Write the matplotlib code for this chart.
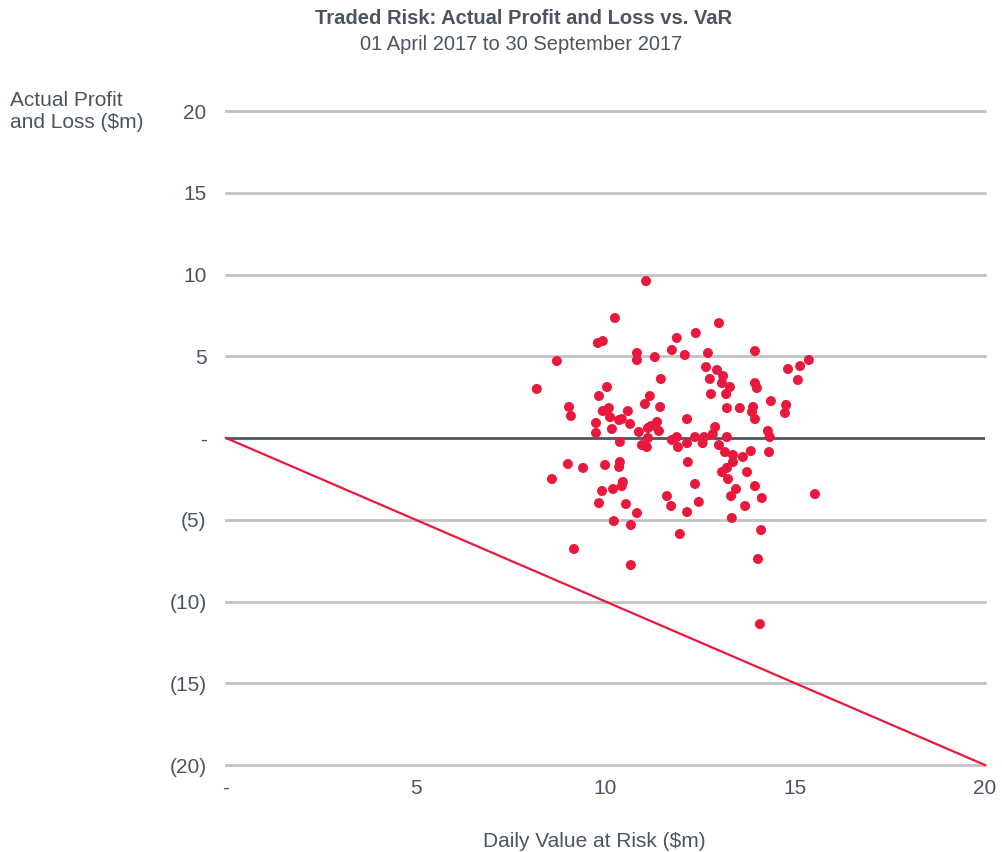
import matplotlib
matplotlib.use("Agg")
import matplotlib.pyplot as plt

plt.rcParams['font.family'] = ['Liberation Sans', 'DejaVu Sans']

# daily VaR ($m) and actual P&L ($m)
var_m = [11.07, 10.25, 12.99, 12.38, 11.88, 11.75, 9.80, 9.93, 8.72, 10.83,
         10.83, 11.30, 12.09, 12.70, 13.94, 12.65, 12.94, 13.10, 13.07, 12.75,
         13.28, 11.46, 10.04, 8.19, 13.94, 13.99, 14.81, 15.13, 15.36, 15.07,
         9.83, 11.17, 11.04, 12.78, 13.18, 14.36, 14.76, 14.73, 13.20, 13.54,
         13.89, 13.86, 13.94, 12.15, 9.04, 9.09, 11.44, 9.93, 10.09, 10.12,
         10.36, 10.43, 10.59, 10.65, 9.75, 9.75, 10.17, 10.88, 11.12, 11.20,
         11.41, 11.36, 12.89, 12.83, 14.28, 14.33, 11.12, 11.75, 11.88, 12.36,
         12.60, 13.20, 10.38, 10.96, 11.09, 11.91, 12.15, 12.56, 12.99, 13.15,
         13.36, 13.36, 13.62, 13.83, 14.31, 12.17, 9.41, 9.99, 10.38, 10.36,
         9.01, 8.59, 10.46, 10.43, 9.91, 10.20, 9.83, 10.54, 10.83, 10.22,
         10.67, 11.62, 11.73, 11.96, 9.17, 10.67, 13.07, 13.20, 13.73, 13.23,
         12.36, 13.94, 13.44, 13.31, 14.12, 15.52, 12.46, 12.15, 13.68, 13.33,
         14.10, 14.02, 14.07]
pnl_m = [9.60, 7.34, 7.03, 6.42, 6.12, 5.38, 5.81, 5.93, 4.71, 5.20,
         4.77, 4.95, 5.08, 5.20, 5.32, 4.34, 4.16, 3.79, 3.36, 3.61,
         3.12, 3.61, 3.12, 3.00, 3.36, 3.06, 4.22, 4.40, 4.77, 3.55,
         2.57, 2.57, 2.08, 2.69, 2.69, 2.26, 2.02, 1.53, 1.83, 1.83,
         1.90, 1.59, 1.16, 1.16, 1.90, 1.35, 1.90, 1.65, 1.83, 1.28,
         1.10, 1.16, 1.65, 0.86, 0.92, 0.31, 0.55, 0.37, 0.61, 0.73,
         0.43, 0.98, 0.67, 0.24, 0.43, 0.06, 0.00, -0.12, 0.06, 0.06,
         0.06, 0.06, -0.24, -0.43, -0.55, -0.55, -0.31, -0.31, -0.43, -0.86,
         -1.04, -1.47, -1.16, -0.80, -0.86, -1.47, -1.83, -1.65, -1.47, -1.77,
         -1.59, -2.51, -2.69, -2.94, -3.24, -3.12, -3.98, -4.04, -4.59, -5.08,
         -5.32, -3.55, -4.16, -5.87, -6.79, -7.77, -2.08, -1.83, -2.08, -2.51,
         -2.81, -2.94, -3.12, -3.55, -3.67, -3.43, -3.91, -4.53, -4.16, -4.89,
         -5.63, -7.40, -11.38]

# reference line: loss equal to VaR
var_line = [0, 20]
loss_line = [0, -20]

y_ticks = [20, 15, 10, 5, 0, -5, -10, -15, -20]
y_labels = ['20', '15', '10', '5', '-', '(5)', '(10)', '(15)', '(20)']
x_ticks = [0, 5, 10, 15, 20]
x_labels = ['-', '5', '10', '15', '20']

red = '#e8193c'
txt = '#4a5561'

fig = plt.figure(figsize=(10.03, 8.52), dpi=100)
ax = fig.add_axes([0.2253, 0.1021, 0.7567, 0.7676])

for yv in y_ticks:
    if yv == 0:
        continue
    ax.axhline(yv, color='#c3c3c3', lw=2, zorder=1, clip_on=False)
ax.axhline(0, color='#4d5660', lw=2, zorder=2)

ax.plot(var_line, loss_line, color=red, lw=1.6, zorder=3, clip_on=False)
ax.scatter(var_m, pnl_m, s=52, color=red, edgecolors='none', zorder=4)

ax.set_xlim(0, 20)
ax.set_ylim(-20, 20)
ax.set_yticks(y_ticks)
ax.set_yticklabels(y_labels)
ax.set_xticks(x_ticks)
ax.set_xticklabels(x_labels)
ax.tick_params(length=0, labelsize=15, colors=txt)
ax.tick_params(axis='y', pad=14)
ax.tick_params(axis='x', pad=10)
for s in ax.spines.values():
    s.set_visible(False)

fig.text(0.522, 0.978, 'Traded Risk: Actual Profit and Loss vs. VaR',
         ha='center', va='center', fontsize=14.5, fontweight='bold', color=txt)
fig.text(0.52, 0.948, '01 April 2017 to 30 September 2017',
         ha='center', va='center', fontsize=14.5, color=txt)
fig.text(0.010, 0.869, 'Actual Profit\nand Loss ($m)', ha='left', va='center',
         fontsize=15, color=txt, linespacing=1.2)
fig.text(0.593, 0.0129, 'Daily Value at Risk ($m)', ha='center', va='center',
         fontsize=15, color=txt)

fig.savefig('out.png', dpi=100, facecolor='white')
